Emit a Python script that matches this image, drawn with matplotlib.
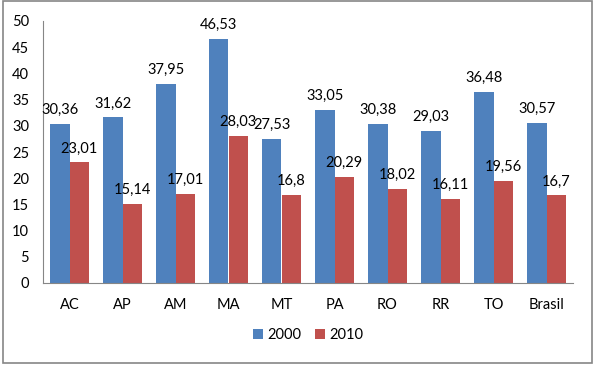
import numpy as np
import matplotlib
matplotlib.use("Agg")
import matplotlib.pyplot as plt
from matplotlib.patches import Rectangle

plt.rcParams['font.family'] = ['Lato', 'DejaVu Sans']

estados = ['AC', 'AP', 'AM', 'MA', 'MT', 'PA', 'RO', 'RR', 'TO', 'Brasil']
v2000 = [30.36, 31.62, 37.95, 46.53, 27.53, 33.05, 30.38, 29.03, 36.48, 30.57]
v2010 = [23.01, 15.14, 17.01, 28.03, 16.8, 20.29, 18.02, 16.11, 19.56, 16.7]
y_ticks = [0, 5, 10, 15, 20, 25, 30, 35, 40, 45, 50]

azul = '#4F81BD'
verm = '#C0504D'
cinza = '#868686'

def fmt(v):
    s = ('%.2f' % v).rstrip('0').rstrip('.')
    return s.replace('.', ',')

fig = plt.figure(figsize=(5.98, 3.68), dpi=100)
fig.patches.append(Rectangle((3/598, 5/368), 589/598, 362/368, transform=fig.transFigure,
                             fill=False, edgecolor=cinza, linewidth=1.2))
ax = fig.add_axes([43/598, 85/368, 530/598, 262/368])

x = np.arange(len(estados))
w = 0.36
b1 = ax.bar(x - w/2, v2000, w, color=azul, label='2000')
b2 = ax.bar(x + w/2, v2010, w, color=verm, label='2010')

for bars, vals in ((b1, v2000), (b2, v2010)):
    for r, v in zip(bars, vals):
        ax.text(r.get_x() + r.get_width()/2, v + 1.3, fmt(v), ha='center', va='bottom',
                fontsize=10.5, color='black')

ax.set_xlim(-0.5, len(estados) - 0.5)
ax.set_ylim(0, 50)
ax.set_yticks(y_ticks)
ax.set_xticks(x)
ax.set_xticklabels(estados)
ax.tick_params(axis='both', length=0, labelsize=10.5, colors='black')
ax.tick_params(axis='x', pad=11)
ax.tick_params(axis='y', pad=10)
for s in ('top', 'right'):
    ax.spines[s].set_visible(False)
for s in ('left', 'bottom'):
    ax.spines[s].set_color(cinza)

ax.legend(loc='center', bbox_to_anchor=(0.5, -0.2), ncol=2, frameon=False,
          fontsize=10.5, handlelength=0.7, handleheight=0.7, handletextpad=0.3,
          columnspacing=0.9)

fig.savefig('out.png', dpi=100)
